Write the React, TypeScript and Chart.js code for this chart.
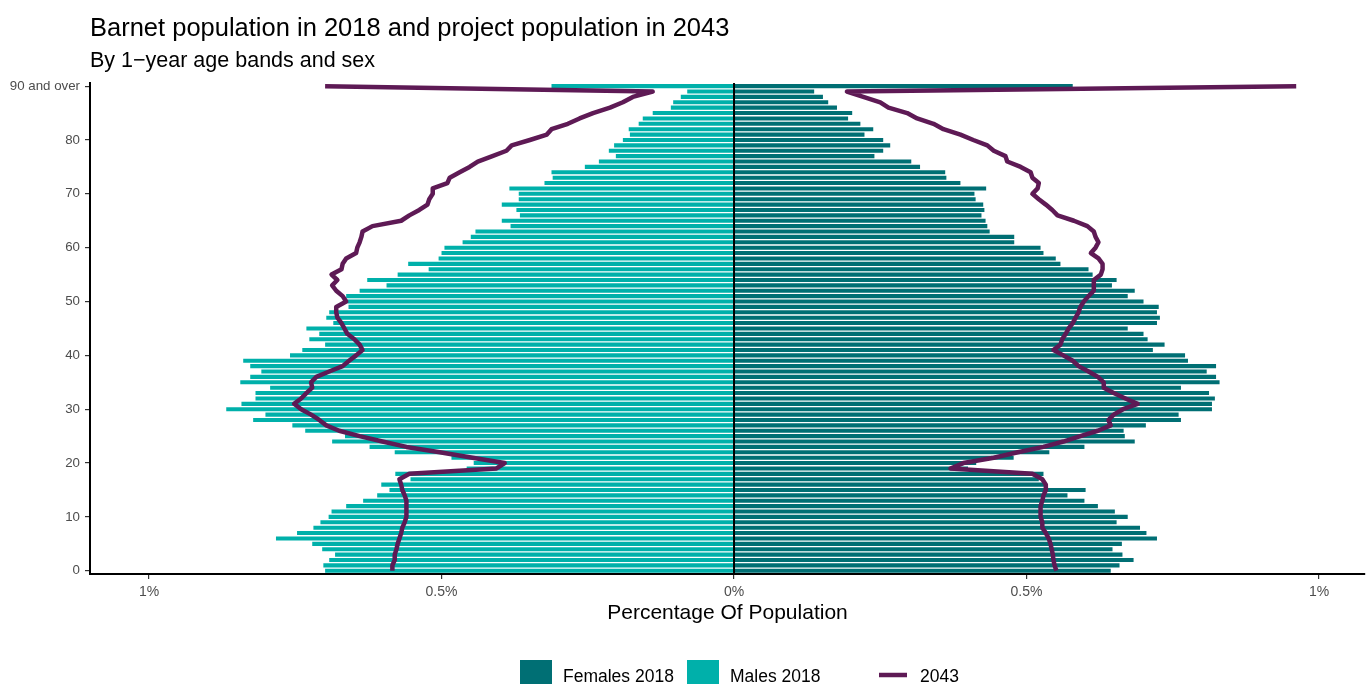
import React, { useEffect, useRef } from "react";
import { Chart, registerables } from "chart.js";

Chart.register(...registerables);

const FONT = '"Liberation Sans", Arial, Helvetica, sans-serif';

const ages = [
  0, 1, 2, 3, 4, 5, 6, 7, 8, 9, 10, 11, 12, 13, 14, 15, 16, 17, 18, 19, 20, 21, 22, 23, 24, 25, 26, 27, 28, 29,
  30, 31, 32, 33, 34, 35, 36, 37, 38, 39, 40, 41, 42, 43, 44, 45, 46, 47, 48, 49, 50, 51, 52, 53, 54, 55, 56, 57, 58, 59,
  60, 61, 62, 63, 64, 65, 66, 67, 68, 69, 70, 71, 72, 73, 74, 75, 76, 77, 78, 79, 80, 81, 82, 83, 84, 85, 86, 87, 88, 89, 90,
];

// % of population, index = age (90 = "90 and over")
const males2018 = [
  0.699, 0.702, 0.692, 0.682, 0.704, 0.721, 0.783, 0.747, 0.719, 0.707,
  0.693, 0.688, 0.663, 0.634, 0.610, 0.589, 0.603, 0.553, 0.579, 0.457,
  0.445, 0.483, 0.580, 0.623, 0.687, 0.665, 0.733, 0.755, 0.822, 0.801,
  0.868, 0.842, 0.818, 0.818, 0.793, 0.844, 0.827, 0.808, 0.827, 0.839,
  0.759, 0.738, 0.699, 0.726, 0.709, 0.731, 0.685, 0.697, 0.692, 0.659,
  0.661, 0.663, 0.640, 0.594, 0.627, 0.575, 0.522, 0.557, 0.505, 0.500,
  0.495, 0.464, 0.450, 0.442, 0.382, 0.397, 0.366, 0.372, 0.397, 0.368,
  0.368, 0.384, 0.324, 0.310, 0.312, 0.255, 0.231, 0.202, 0.214, 0.205,
  0.190, 0.178, 0.180, 0.163, 0.156, 0.139, 0.108, 0.104, 0.091, 0.080,
  0.312,
];

const females2018 = [
  0.644, 0.659, 0.683, 0.664, 0.647, 0.663, 0.723, 0.705, 0.694, 0.654,
  0.673, 0.651, 0.622, 0.599, 0.570, 0.601, 0.533, 0.521, 0.529, 0.400,
  0.414, 0.478, 0.539, 0.599, 0.685, 0.668, 0.666, 0.704, 0.764, 0.760,
  0.817, 0.817, 0.822, 0.812, 0.764, 0.830, 0.824, 0.808, 0.824, 0.776,
  0.771, 0.716, 0.736, 0.707, 0.700, 0.673, 0.723, 0.728, 0.723, 0.726,
  0.700, 0.673, 0.685, 0.646, 0.654, 0.613, 0.606, 0.558, 0.550, 0.529,
  0.524, 0.479, 0.479, 0.437, 0.433, 0.430, 0.423, 0.428, 0.426, 0.413,
  0.411, 0.431, 0.387, 0.363, 0.361, 0.318, 0.303, 0.240, 0.255, 0.267,
  0.255, 0.223, 0.238, 0.216, 0.195, 0.202, 0.176, 0.161, 0.152, 0.137,
  0.579,
];

const males2043 = [
  0.584, 0.584, 0.580, 0.580, 0.577, 0.575, 0.572, 0.569, 0.567, 0.563,
  0.560, 0.560, 0.560, 0.560, 0.563, 0.567, 0.569, 0.572, 0.555, 0.406,
  0.392, 0.447, 0.503, 0.560, 0.601, 0.640, 0.675, 0.697, 0.709, 0.723,
  0.740, 0.752, 0.740, 0.731, 0.721, 0.723, 0.714, 0.692, 0.669, 0.658,
  0.646, 0.635, 0.640, 0.649, 0.661, 0.666, 0.671, 0.678, 0.680, 0.680,
  0.663, 0.669, 0.680, 0.687, 0.678, 0.688, 0.671, 0.669, 0.663, 0.646,
  0.644, 0.640, 0.637, 0.635, 0.618, 0.569, 0.555, 0.538, 0.524, 0.521,
  0.515, 0.515, 0.490, 0.486, 0.469, 0.452, 0.438, 0.413, 0.389, 0.380,
  0.349, 0.320, 0.312, 0.284, 0.264, 0.241, 0.212, 0.190, 0.173, 0.139,
  0.699,
];

const females2043 = [
  0.551, 0.548, 0.546, 0.545, 0.543, 0.541, 0.538, 0.533, 0.527, 0.527,
  0.524, 0.524, 0.524, 0.527, 0.529, 0.533, 0.533, 0.527, 0.510, 0.370,
  0.392, 0.444, 0.485, 0.529, 0.563, 0.592, 0.622, 0.644, 0.640, 0.649,
  0.665, 0.690, 0.669, 0.649, 0.632, 0.632, 0.622, 0.606, 0.589, 0.579,
  0.563, 0.546, 0.558, 0.561, 0.567, 0.572, 0.579, 0.584, 0.589, 0.592,
  0.598, 0.606, 0.615, 0.615, 0.615, 0.627, 0.630, 0.630, 0.623, 0.610,
  0.618, 0.623, 0.618, 0.615, 0.604, 0.581, 0.553, 0.544, 0.533, 0.521,
  0.510, 0.519, 0.521, 0.510, 0.507, 0.490, 0.467, 0.464, 0.444, 0.433,
  0.409, 0.387, 0.358, 0.341, 0.313, 0.296, 0.264, 0.250, 0.221, 0.193,
  0.961,
];

const xTickValues = [-1, -0.5, 0, 0.5, 1];
const xTickLabels = ["1%", "0.5%", "0%", "0.5%", "1%"];
const yTickValues = [0, 10, 20, 30, 40, 50, 60, 70, 80, 90];
const yTickLabels = ["0", "10", "20", "30", "40", "50", "60", "70", "80", "90 and over"];

const legendLabels = ["Females 2018", "Males 2018", "2043"];

const FEMALE = "#006F74";
const MALE = "#00B0AA";
const PURPLE = "#5E1A55";

const zeroLinePlugin = {
  id: "zeroLine",
  afterDatasetsDraw(chart: any) {
    const { ctx, chartArea, scales } = chart;
    const x = scales.x.getPixelForValue(0);
    ctx.save();
    ctx.strokeStyle = "#000";
    ctx.lineWidth = 2;
    ctx.beginPath();
    ctx.moveTo(x, chartArea.top);
    ctx.lineTo(x, chartArea.bottom);
    ctx.stroke();
    ctx.restore();
  },
};

const bottomLegendPlugin = {
  id: "bottomLegend",
  afterDraw(chart: any) {
    const { ctx } = chart;
    ctx.save();
    ctx.font = `17.5px ${FONT}`;
    ctx.textBaseline = "alphabetic";
    ctx.textAlign = "left";
    const top = 660;
    const base = 681.5;
    ctx.fillStyle = FEMALE;
    ctx.fillRect(520, top, 32, 32);
    ctx.fillStyle = "#000";
    ctx.fillText(legendLabels[0], 563, base);
    ctx.fillStyle = MALE;
    ctx.fillRect(687, top, 32, 32);
    ctx.fillStyle = "#000";
    ctx.fillText(legendLabels[1], 730, base);
    ctx.strokeStyle = PURPLE;
    ctx.lineWidth = 4.5;
    ctx.beginPath();
    ctx.moveTo(879, 675);
    ctx.lineTo(907, 675);
    ctx.stroke();
    ctx.fillText(legendLabels[2], 920, base);
    ctx.restore();
  },
};

export default function App() {
  const canvasRef = useRef<HTMLCanvasElement | null>(null);

  useEffect(() => {
    document.body.style.margin = "0";
    document.body.style.overflow = "hidden";
    const canvas = canvasRef.current;
    if (!canvas) return;

    const toPoints = (vals: number[], sign: number) =>
      ages.map((a, i) => ({ x: sign * vals[i], y: a }));

    const lineStyle = {
      type: "line" as const,
      borderColor: PURPLE,
      backgroundColor: PURPLE,
      borderWidth: 4.5,
      pointRadius: 0,
      tension: 0,
      borderJoinStyle: "round" as const,
      fill: false,
      order: 1,
    };
    const barStyle = {
      type: "bar" as const,
      grouped: false,
      barPercentage: 0.76,
      categoryPercentage: 1,
      borderWidth: 0,
      order: 2,
    };

    const chart = new Chart(canvas, {
      type: "bar",
      data: {
        datasets: [
          { ...lineStyle, label: "2043", data: toPoints(males2043, -1) },
          { ...lineStyle, label: "2043 ", data: toPoints(females2043, 1) },
          { ...barStyle, label: "Females 2018", data: toPoints(females2018, 1), backgroundColor: FEMALE },
          { ...barStyle, label: "Males 2018", data: toPoints(males2018, -1), backgroundColor: MALE },
        ] as any,
      },
      options: {
        indexAxis: "y",
        animation: false,
        responsive: false,
        devicePixelRatio: 1,
        layout: { padding: { left: 0, right: 5, top: 0, bottom: 54 } },
        scales: {
          x: {
            type: "linear",
            min: -1.1009,
            max: 1.0786,
            offset: false,
            afterBuildTicks: (scale: any) => {
              scale.ticks = xTickValues.map((v) => ({ value: v }));
            },
            afterFit: (scale: any) => {
              scale.height = 56;
            },
            ticks: {
              callback: (_v: any, i: number) => xTickLabels[i],
              font: { family: FONT, size: 14 },
              color: "#4D4D4D",
              padding: 5,
              maxRotation: 0,
              autoSkip: false,
            },
            grid: {
              display: true,
              offset: false,
              drawOnChartArea: false,
              drawTicks: true,
              tickLength: 5,
              color: "#333333",
              tickColor: "#333333",
              lineWidth: 1.2,
            },
            border: { display: true, color: "#000", width: 2 },
            title: {
              display: true,
              text: "Percentage Of Population",
              color: "#000",
              font: { family: FONT, size: 21 },
              padding: { top: 0, bottom: 4 },
            },
          },
          y: {
            type: "linear",
            min: -0.6,
            max: 90.6,
            offset: false,
            afterBuildTicks: (scale: any) => {
              scale.ticks = yTickValues.map((v) => ({ value: v }));
            },
            afterFit: (scale: any) => {
              scale.width = 90;
            },
            ticks: {
              callback: (_v: any, i: number) => yTickLabels[i],
              font: { family: FONT, size: 13.3 },
              color: "#4D4D4D",
              padding: 5,
              autoSkip: false,
            },
            grid: {
              display: true,
              offset: false,
              drawOnChartArea: false,
              drawTicks: true,
              tickLength: 5,
              color: "#333333",
              tickColor: "#333333",
              lineWidth: 1.2,
            },
            border: { display: true, color: "#000", width: 2 },
          },
        },
        plugins: {
          legend: { display: false },
          tooltip: { enabled: false },
          title: {
            display: true,
            text: "Barnet population in 2018 and project population in 2043",
            align: "start",
            fullSize: false,
            color: "#000",
            font: { family: FONT, size: 25.5, weight: "normal", lineHeight: 1.2 },
            padding: { top: 13.5, bottom: 4 },
          },
          subtitle: {
            display: true,
            text: "By 1\u2212year age bands and sex",
            align: "start",
            fullSize: false,
            color: "#000",
            font: { family: FONT, size: 21.5, weight: "normal", lineHeight: 1.2 },
            padding: { top: 0, bottom: 9 },
          },
        },
      } as any,
      plugins: [zeroLinePlugin, bottomLegendPlugin],
    });

    return () => chart.destroy();
  }, []);

  return (
    <div style={{ width: 1370, height: 684, overflow: "hidden" }}>
      <canvas ref={canvasRef} width={1370} height={684} style={{ display: "block" }} />
    </div>
  );
}
